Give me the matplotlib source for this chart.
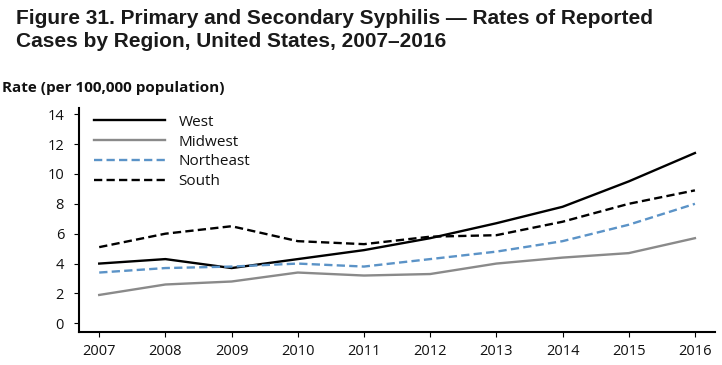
import matplotlib
matplotlib.use("Agg")
import matplotlib.pyplot as plt

years = [2007, 2008, 2009, 2010, 2011, 2012, 2013, 2014, 2015, 2016]
west = [4.0, 4.3, 3.7, 4.3, 4.9, 5.7, 6.7, 7.8, 9.5, 11.4]
midwest = [1.9, 2.6, 2.8, 3.4, 3.2, 3.3, 4.0, 4.4, 4.7, 5.7]
northeast = [3.4, 3.7, 3.8, 4.0, 3.8, 4.3, 4.8, 5.5, 6.6, 8.0]
south = [5.1, 6.0, 6.5, 5.5, 5.3, 5.8, 5.9, 6.8, 8.0, 8.9]
yticks = [0, 2, 4, 6, 8, 10, 12, 14]

title_line1 = "Figure 31. Primary and Secondary Syphilis \u2014 Rates of Reported"
title_line2 = "Cases by Region, United States, 2007\u20132016"
ylabel = "Rate (per 100,000 population)"

title_font = "Liberation Sans"
body_font = "Open Sans"

fig = plt.figure(figsize=(7.22, 3.65), dpi=100)
ax = fig.add_axes([0.109, 0.0904, 0.881, 0.614])

dash = (0, (3.5, 1.8))
ax.plot(years, west, color="black", lw=1.7, label="West")
ax.plot(years, midwest, color="#8a8a8a", lw=1.7, label="Midwest")
ax.plot(years, northeast, color="#5b93c7", lw=1.7, ls=dash, label="Northeast")
ax.plot(years, south, color="black", lw=1.7, ls=dash, label="South")

ax.set_xlim(2006.69, 2016.30)
ax.set_ylim(-0.58, 14.42)
ax.set_xticks(years)
ax.set_yticks(yticks)
ax.tick_params(axis="both", direction="out", length=3.5, width=0.8, color="black",
               labelsize=10.5)
ax.tick_params(axis="y", pad=7)
ax.tick_params(axis="x", pad=5)
for lab in ax.get_xticklabels() + ax.get_yticklabels():
    lab.set_fontfamily(body_font)
    lab.set_color("#111111")

for s in ["top", "right"]:
    ax.spines[s].set_visible(False)
for s in ["left", "bottom"]:
    ax.spines[s].set_linewidth(1.5)
    ax.spines[s].set_color("black")

leg = ax.legend(loc="upper left", bbox_to_anchor=(0.015, 0.997), frameon=False,
                prop={"family": body_font, "size": 11}, handlelength=4.6,
                handletextpad=0.9, labelspacing=0.32, borderaxespad=0)
for t in leg.get_texts():
    t.set_color("#111111")

fig.text(16 / 722, 1 - 24 / 365, title_line1, fontfamily=title_font, fontweight="bold",
         fontsize=15, va="baseline", ha="left", color="#1a1a1a")
fig.text(16 / 722, 1 - 46.7 / 365, title_line2, fontfamily=title_font, fontweight="bold",
         fontsize=15, va="baseline", ha="left", color="#1a1a1a")
fig.text(0.003, 1 - 92 / 365, ylabel, fontfamily=body_font, fontweight="bold", fontsize=11,
         va="baseline", ha="left", color="#111111")

fig.savefig("out.png", dpi=100)
